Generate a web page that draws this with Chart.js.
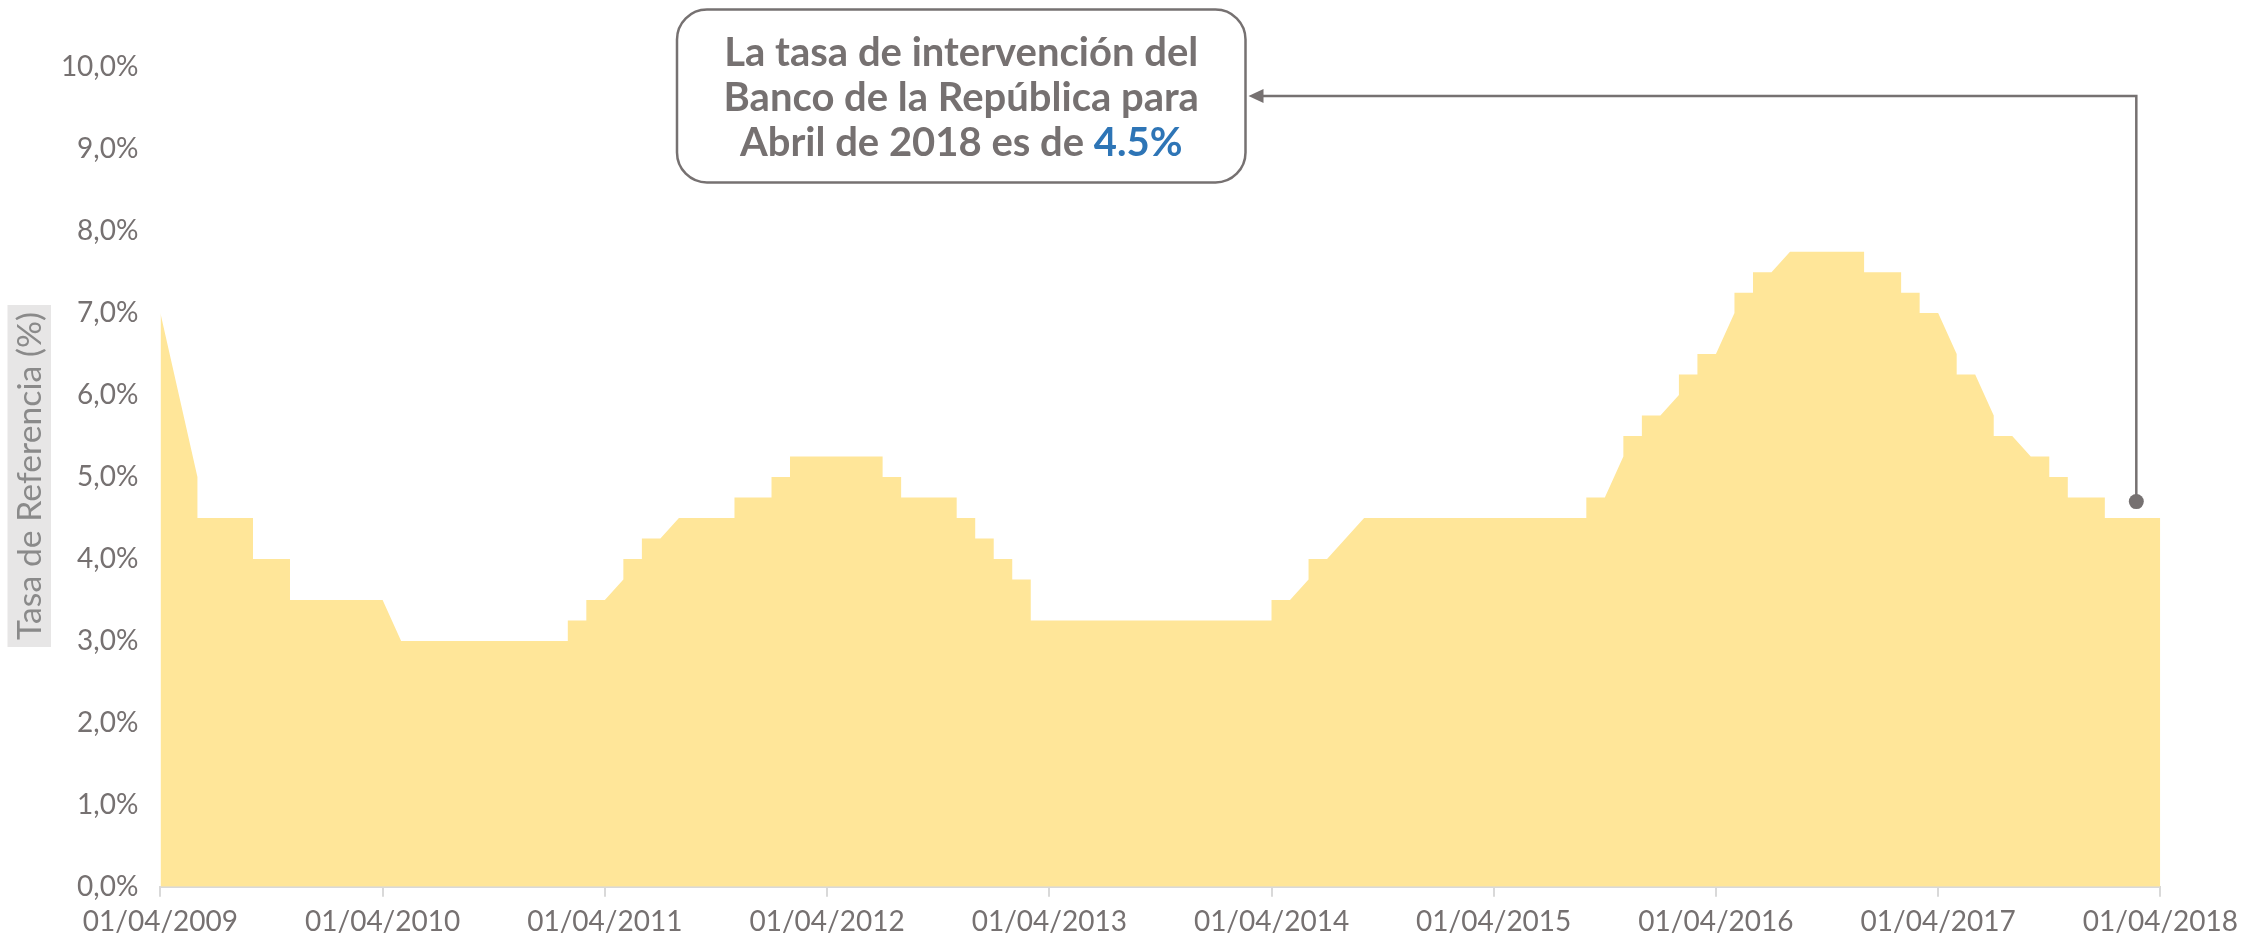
<!DOCTYPE html>
<html>
<head>
<meta charset="utf-8">
<script src="https://cdn.jsdelivr.net/npm/chart.js@4.4.1/dist/chart.umd.min.js"></script>
<style>
html,body{margin:0;padding:0;background:#ffffff;overflow:hidden}
#wrap{width:2246px;height:940px;position:relative}
</style>
</head>
<body>
<div id="wrap"><canvas id="c" width="2246" height="940"></canvas></div>
<script>
// ---- Data (x = months since 01/04/2009, y = reference rate %) ----
const months = [0,2,2,5,5,7,7,12,13,22,22,23,23,24,25,25,26,26,27,28,31,31,33,33,34,34,
  39,39,40,40,43,43,44,44,45,45,46,46,47,47,60,60,61,62,62,63,65,
  77,77,78,79,79,80,80,81,82,82,83,83,84,85,85,86,86,87,88,
  92,92,94,94,95,95,96,97,97,98,99,99,100,101,102,102,103,103,105,105,108];
const rates = [7.0,5.0,4.5,4.5,4.0,4.0,3.5,3.5,3.0,3.0,3.25,3.25,3.5,3.5,3.75,4.0,4.0,4.25,4.25,4.5,4.5,4.75,4.75,5.0,5.0,5.25,
  5.25,5.0,5.0,4.75,4.75,4.5,4.5,4.25,4.25,4.0,4.0,3.75,3.75,3.25,3.25,3.5,3.5,3.75,4.0,4.0,4.5,
  4.5,4.75,4.75,5.25,5.5,5.5,5.75,5.75,6.0,6.25,6.25,6.5,6.5,7.0,7.25,7.25,7.5,7.5,7.75,
  7.75,7.5,7.5,7.25,7.25,7.0,7.0,6.5,6.25,6.25,5.75,5.5,5.5,5.25,5.25,5.0,5.0,4.75,4.75,4.5,4.5];
const tickYears = [2009,2010,2011,2012,2013,2014,2015,2016,2017,2018];
const yTickValues = [0,1,2,3,4,5,6,7,8,9,10];
const axisTitle = 'Tasa de Referencia (%)';
const noteLines = ['La tasa de intervención del', 'Banco de la República para', 'Abril de 2018 es de '];
const noteValue = '4.5%';
const noteMonth = 106.7;
const noteRate = 4.7;

const FONT = 'Lato, "DejaVu Sans", sans-serif';
const GREY = '#767171';

const points = months.map((m, i) => ({x: m, y: rates[i]}));

const titlePlugin = {
  id: 'ytitle',
  beforeDraw(chart) {
    const ctx = chart.ctx;
    ctx.save();
    ctx.fillStyle = '#e7e6e6';
    ctx.fillRect(7.5, 305, 43.5, 342);
    let size = 28;
    ctx.font = `${size}px ${FONT}`;
    const w = ctx.measureText(axisTitle).width;
    size = Math.min(34, size * 328 / w);
    ctx.font = `${size}px ${FONT}`;
    ctx.translate(29.5, 476);
    ctx.rotate(-Math.PI / 2);
    ctx.fillStyle = '#8a8a8a';
    ctx.textAlign = 'center';
    ctx.textBaseline = 'middle';
    ctx.fillText(axisTitle, 0, 1);
    ctx.restore();
  }
};

const notePlugin = {
  id: 'note',
  afterDatasetsDraw(chart) {
    const ctx = chart.ctx;
    const xs = chart.scales.x, ys = chart.scales.y;
    const px = xs.getPixelForValue(noteMonth);
    const py = ys.getPixelForValue(noteRate);
    const bx = 677, by = 9.5, bw = 568.5, bh = 173, r = 30;
    const midY = by + bh / 2;
    ctx.save();
    ctx.strokeStyle = GREY;
    ctx.fillStyle = GREY;
    ctx.lineWidth = 2.5;
    ctx.beginPath();
    ctx.moveTo(px, py);
    ctx.lineTo(px, midY);
    ctx.lineTo(bx + bw + 14, midY);
    ctx.stroke();
    ctx.beginPath();
    ctx.moveTo(bx + bw + 3, midY);
    ctx.lineTo(bx + bw + 18, midY - 7);
    ctx.lineTo(bx + bw + 18, midY + 7);
    ctx.closePath();
    ctx.fill();
    ctx.beginPath();
    ctx.arc(px, py, 7.5, 0, Math.PI * 2);
    ctx.fill();
    // box
    ctx.fillStyle = '#ffffff';
    ctx.beginPath();
    ctx.roundRect(bx, by, bw, bh, r);
    ctx.fill();
    ctx.stroke();
    // text
    let size = 36;
    ctx.font = `bold ${size}px ${FONT}`;
    const w1 = ctx.measureText(noteLines[0]).width;
    size = Math.min(40, size * 487 / w1);
    ctx.font = `bold ${size}px ${FONT}`;
    const cx = bx + bw / 2;
    ctx.textBaseline = 'middle';
    ctx.textAlign = 'center';
    ctx.fillStyle = GREY;
    ctx.fillText(noteLines[0], cx, midY - 43);
    ctx.fillText(noteLines[1], cx, midY + 2);
    ctx.textAlign = 'left';
    const wa = ctx.measureText(noteLines[2]).width;
    const wb = ctx.measureText(noteValue).width;
    const sx = cx - (wa + wb) / 2;
    ctx.fillText(noteLines[2], sx, midY + 47);
    ctx.fillStyle = '#2e75b6';
    ctx.fillText(noteValue, sx + wa, midY + 47);
    ctx.restore();
  }
};

new Chart(document.getElementById('c'), {
  type: 'line',
  data: {
    datasets: [{
      data: points,
      fill: 'origin',
      backgroundColor: '#ffe699',
      borderWidth: 0,
      borderColor: 'rgba(0,0,0,0)',
      pointRadius: 0,
      pointHoverRadius: 0,
      tension: 0
    }]
  },
  options: {
    responsive: false,
    devicePixelRatio: 1,
    animation: false,
    events: [],
    layout: {padding: {top: 67.3, right: 84.5, bottom: 0, left: 0}},
    plugins: {legend: {display: false}, tooltip: {enabled: false}, title: {display: false}},
    scales: {
      x: {
        type: 'linear',
        min: 0,
        max: 108,
        afterBuildTicks: (s) => { s.ticks = tickYears.map((y, i) => ({value: i * 12})); },
        afterFit: (s) => { s.height = 53.3; },
        ticks: {
          autoSkip: false,
          maxRotation: 0,
          padding: 8,
          color: GREY,
          font: {family: FONT, size: 28},
          callback: (v) => '01/04/' + tickYears[Math.round(v / 12)]
        },
        grid: {display: true, drawOnChartArea: false, drawTicks: true, tickLength: 10, color: '#d9d9d9', lineWidth: 2},
        border: {display: true, color: '#d9d9d9', width: 2}
      },
      y: {
        min: 0,
        max: 10,
        afterBuildTicks: (s) => { s.ticks = yTickValues.map(v => ({value: v})); },
        afterFit: (s) => { s.width = 160.4; },
        ticks: {
          padding: 22,
          color: GREY,
          font: {family: FONT, size: 28},
          callback: (v) => v.toFixed(1).replace('.', ',') + '%'
        },
        grid: {display: false, drawTicks: false},
        border: {display: false}
      }
    }
  },
  plugins: [titlePlugin, notePlugin]
});
</script>
</body>
</html>
